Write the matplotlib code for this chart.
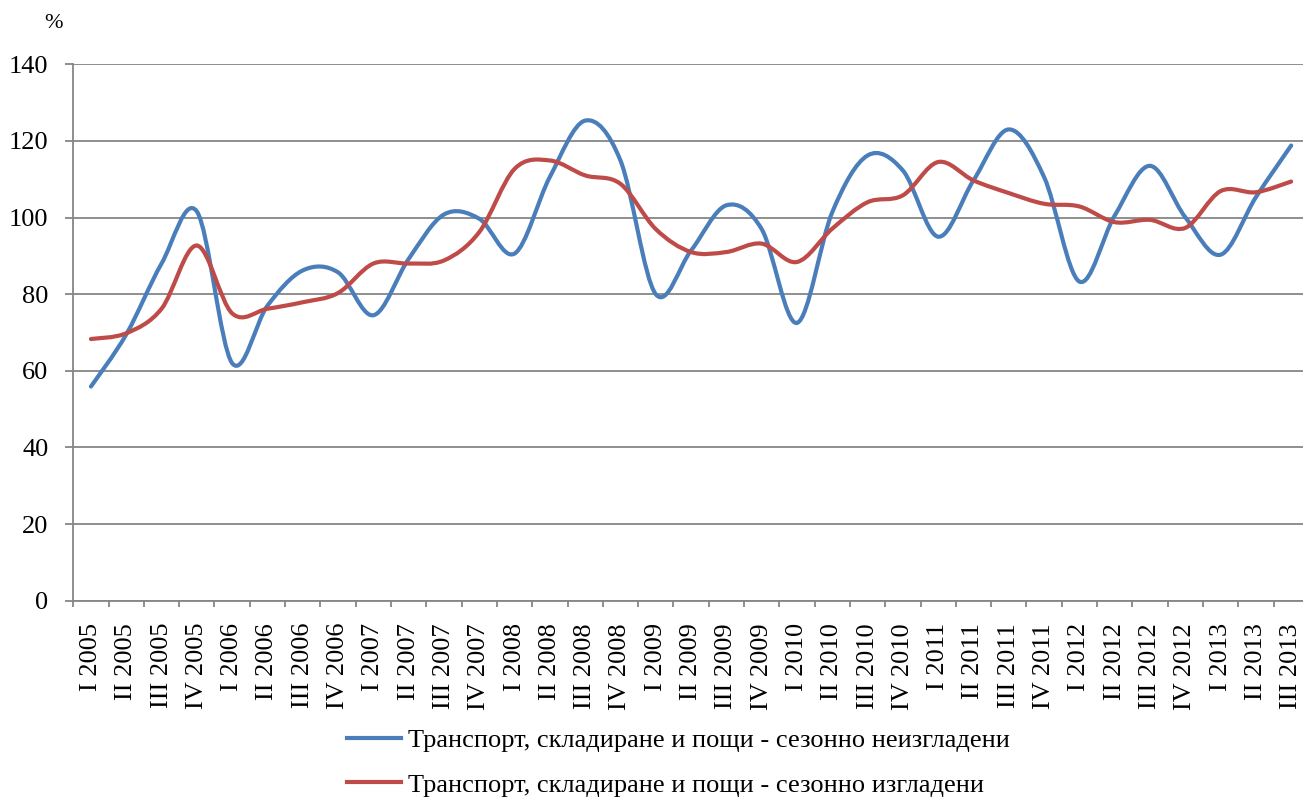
import matplotlib
matplotlib.use("Agg")
import matplotlib.pyplot as plt
from matplotlib.path import Path
from matplotlib.patches import PathPatch
from matplotlib.lines import Line2D
import numpy as np

quarters = ["I", "II", "III", "IV"]
categories = []
for yr in range(2005, 2014):
    for q in quarters:
        categories.append(f"{q} {yr}")
categories = categories[:35]

unsmoothed = [55.9, 69.5, 88.0, 101.6, 62.0, 77.0, 86.2, 85.7, 74.5, 89.2,
              100.8, 99.7, 90.6, 110.6, 125.3, 114.9, 80.0, 91.4, 103.2, 97.0,
              72.5, 101.4, 116.2, 112.3, 95.0, 109.7, 123.0, 110.6, 83.3, 100.5,
              113.5, 100.1, 90.3, 105.3, 118.8]
smoothed = [68.3, 69.8, 76.2, 92.7, 75.0, 76.2, 77.9, 80.3, 88.0, 88.0,
            88.8, 96.2, 112.7, 114.9, 111.0, 108.8, 97.0, 91.0, 91.0, 93.2,
            88.4, 97.1, 104.0, 105.8, 114.5, 109.7, 106.4, 103.6, 102.9, 98.8,
            99.4, 97.3, 106.9, 106.6, 109.4]

labels = ["Транспорт, складиране и пощи - сезонно неизгладени",
          "Транспорт, складиране и пощи - сезонно изгладени"]
colors = ["#4A7EBB", "#BE4B48"]

plt.rcParams['font.family'] = ['Liberation Serif', 'DejaVu Serif']

W, H = 1303, 798
fig = plt.figure(figsize=(W / 100, H / 100), dpi=100)
ax = fig.add_axes([73.3 / W, 1 - 600.7 / H, (1308.8 - 73.3) / W, (600.7 - 64.3) / H])


def smooth_path(xs, ys):
    pts = np.column_stack([xs, ys]).astype(float)
    n = len(pts)
    verts = [pts[0]]
    codes = [Path.MOVETO]
    for i in range(n - 1):
        p_prev = pts[i - 1] if i > 0 else pts[i]
        p_next2 = pts[i + 2] if i + 2 < n else pts[i + 1]
        c1 = pts[i] + (pts[i + 1] - p_prev) / 6.0
        c2 = pts[i + 1] - (p_next2 - pts[i]) / 6.0
        verts += [c1, c2, pts[i + 1]]
        codes += [Path.CURVE4, Path.CURVE4, Path.CURVE4]
    return Path(verts, codes)


x = np.arange(len(categories))
for series, col in zip([unsmoothed, smoothed], colors):
    patch = PathPatch(smooth_path(x, series), facecolor='none', edgecolor=col,
                      lw=3.0, capstyle='round', joinstyle='round', zorder=3)
    ax.add_patch(patch)

ax.set_xlim(-0.5, len(categories) - 0.5)
ax.set_ylim(0, 140)
ax.set_yticks(np.arange(0, 141, 20))
ax.yaxis.grid(True, color='#868686', lw=1.3)
ax.set_axisbelow(True)

for s in ['top', 'right']:
    ax.spines[s].set_visible(False)
for s in ['left', 'bottom']:
    ax.spines[s].set_color('#868686')
    ax.spines[s].set_linewidth(1.3)

ax.set_xticks(x)
ax.set_xticklabels(categories, rotation=90, fontsize=19)
ax.tick_params(axis='x', which='major', length=0, pad=16)
ax.set_xticks(np.arange(-0.5, len(categories), 1), minor=True)
ax.tick_params(axis='x', which='minor', length=4, width=1.3, color='#868686')
ax.tick_params(axis='y', length=6, width=1.3, color='#868686', labelsize=19, pad=12)

fig.text(54 / W, 1 - 24 / H, "%", fontsize=16, ha='center', va='center')

handles = [Line2D([], [], color=c, lw=3.0) for c in colors]
fig.legend(handles, labels, loc='upper left', bbox_to_anchor=(347 / W, 1 - 729 / H),
           frameon=False, fontsize=19, handlelength=2.05, handletextpad=0.25,
           labelspacing=0.78, borderpad=0, borderaxespad=0)

fig.savefig("out.png", dpi=100)
